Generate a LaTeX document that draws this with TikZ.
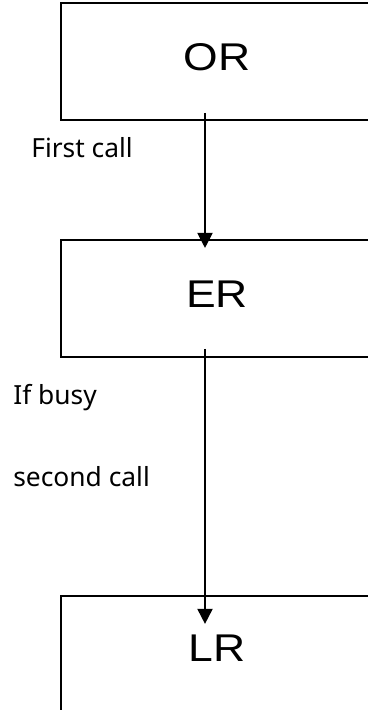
\documentclass[tikz,border=0pt]{standalone}
\usepackage{fontspec}
\usepackage{tikz}
\usetikzlibrary{arrows.meta}
\usetikzlibrary{positioning}
\newfontfamily\boxfont[FakeStretch=1.15]{Liberation Sans}
\newfontfamily\notefont{Noto Sans}
\tikzstyle{room} = [rectangle, minimum width=6.24cm, minimum height=2.34cm, draw=black, line width=1.1pt, font=\boxfont\fontsize{22}{26}\selectfont, text height=0.56cm, text depth=0.18cm]
\tikzstyle{note} = [anchor=base west, inner sep=0pt, font=\notefont\fontsize{15}{18}\selectfont]
\tikzstyle{arrow} = [line width=1.1pt, -{Triangle[length=0.3cm, width=0.3cm]}]

\begin{document}
\begin{tikzpicture}
    \useasboundingbox (0,0) rectangle (7.36,14.2);
    \node(or)[room] at (4.34,12.97) {OR};
    \node(er)[room, below=2.36cm of or] {ER};
    \node(lr)[room, below=4.74cm of er, minimum height=2.62cm, text depth=0.54cm] {LR};
    %
    \node(first)[note] at (0.62,11.04) {First call};
    \node(busy)[note] at (0.26,6.10) {If busy};
    \node(second)[note] at (0.26,4.46) {second call};
    %
    \draw[arrow]([xshift=-0.24cm, yshift=0.16cm]or.south) -- ([xshift=-0.24cm, yshift=-0.18cm]er.north);
    \draw[arrow]([xshift=-0.24cm, yshift=0.18cm]er.south) -- ([xshift=-0.24cm, yshift=-0.58cm]lr.north);
  \end{tikzpicture}
\end{document}
